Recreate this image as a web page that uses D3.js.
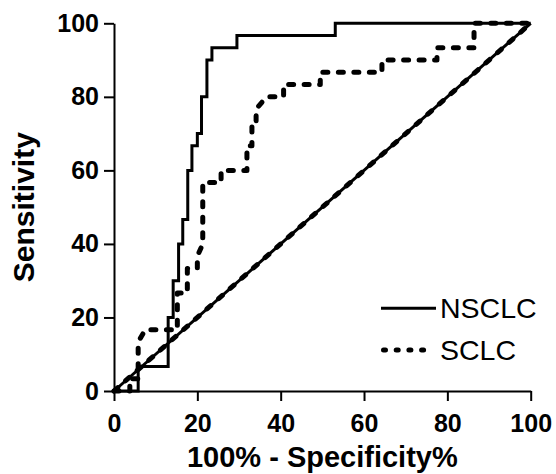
<!DOCTYPE html>
<html><head><meta charset="utf-8">
<script src="https://cdn.jsdelivr.net/npm/d3@7"></script>
<style>
html,body{margin:0;padding:0;background:#fff;}
svg{display:block;font-family:"Liberation Sans",Arial,Helvetica,sans-serif;}
</style></head>
<body><svg id="c" width="556" height="474"></svg>
<script>
const xTicks = [0, 20, 40, 60, 80, 100];
const yTicks = [0, 20, 40, 60, 80, 100];
const seriesNames = ["NSCLC", "SCLC"];
const nsclcX = [0, 5.8, 5.8, 13, 13, 14.2, 14.2, 15.5, 15.5, 16.5, 16.5, 17.7, 17.7, 18.7, 18.7, 20, 20, 21, 21, 22.3, 22.3, 23.5, 23.5, 29.5, 29.5, 53.1, 53.1, 100];
const nsclcY = [0, 0, 6.67, 6.67, 20, 20, 30, 30, 40, 40, 46.67, 46.67, 60, 60, 66.67, 66.67, 70, 70, 80, 80, 90, 90, 93.33, 93.33, 96.67, 96.67, 100, 100];
const sclcX = [0, 3.8, 3.8, 5.8, 5.8, 7.5, 15.2, 15.2, 17.6, 17.6, 20, 20, 21.3, 21.3, 25.7, 25.7, 31.9, 31.9, 33.1, 33.1, 34.1, 34.1, 36.6, 40.7, 40.7, 49.5, 49.5, 64.3, 64.3, 77.5, 77.5, 86.4, 86.4, 100];
const sclcY = [0, 0, 3.33, 3.33, 13.33, 16.67, 16.67, 26.67, 26.67, 33.33, 33.33, 36.67, 40, 56.67, 56.67, 60, 60, 66.67, 66.67, 73.33, 73.33, 76.67, 80, 80, 83.33, 83.33, 86.67, 86.67, 90, 90, 93.33, 93.33, 100, 100];
const refX = [0, 100];
const refY = [0, 100];

const svg = d3.select("#c");
const x = d3.scaleLinear().domain([0, 100]).range([114, 530.7]);
const y = d3.scaleLinear().domain([0, 100]).range([391, 23.3]);

const line = d3.line().x(d => x(d[0])).y(d => y(d[1]));
const zip = (a, b) => a.map((v, i) => [v, b[i]]);

const plot = svg.append("g");
// reference diagonals (solid + dashed overlapping)
plot.append("path").datum(zip(refX, refY)).attr("d", line)
  .attr("fill", "none").attr("stroke", "#000").attr("stroke-width", 3);
plot.append("path").datum(zip(refX, refY)).attr("d", line)
  .attr("fill", "none").attr("stroke", "#000").attr("stroke-width", 5)
  .attr("stroke-dasharray", "5,10.5").attr("stroke-linecap", "round");
// curves
plot.append("path").datum(zip(nsclcX, nsclcY)).attr("d", line)
  .attr("fill", "none").attr("stroke", "#000").attr("stroke-width", 3);
plot.append("path").datum(zip(sclcX, sclcY)).attr("d", line)
  .attr("fill", "none").attr("stroke", "#000").attr("stroke-width", 5)
  .attr("stroke-dasharray", "5,10.5").attr("stroke-linecap", "round")
  .attr("stroke-linejoin", "round");

// axes
const xAxis = d3.axisBottom(x).tickValues(xTicks).tickSizeInner(10).tickSizeOuter(0).tickPadding(13);
const yAxis = d3.axisLeft(y).tickValues(yTicks).tickSizeInner(10).tickSizeOuter(0).tickPadding(5);
const gx = svg.append("g").attr("transform", `translate(0,${y(0)})`).call(xAxis);
const gy = svg.append("g").attr("transform", `translate(${x(0)},0)`).call(yAxis);
[gx, gy].forEach(g => {
  g.select(".domain").attr("stroke", "#000").attr("stroke-width", 2);
  g.selectAll(".tick line").attr("stroke", "#000").attr("stroke-width", 2);
  g.selectAll(".tick text").attr("fill", "#000").style("font-size", "25px")
    .style("font-weight", "bold").style("font-family", "'Liberation Sans',Arial,sans-serif");
});

// axis titles
svg.append("text").attr("x", (x(0) + x(100)) / 2).attr("y", 467)
  .attr("text-anchor", "middle").style("font-size", "29px").style("font-weight", "bold")
  .text("100% - Specificity%");
svg.append("text").attr("transform", `translate(34,${(y(0) + y(100)) / 2}) rotate(-90)`)
  .attr("text-anchor", "middle").style("font-size", "30px").style("font-weight", "bold")
  .text("Sensitivity");

// legend
const leg = svg.append("g");
const legY = [308.3, 350];
seriesNames.forEach((name, i) => {
  const l = leg.append("line").attr("x1", 381).attr("x2", 436).attr("y1", legY[i]).attr("y2", legY[i])
    .attr("stroke", "#000");
  if (i === 0) l.attr("stroke-width", 3);
  else l.attr("stroke-width", 5).attr("stroke-dasharray", "2,10.7").attr("stroke-linecap", "round")
    .attr("x1", 383.5).attr("x2", 433.5);
  leg.append("text").attr("x", 440).attr("y", legY[i] + 9.5).style("font-size", "28.5px")
    .text(name);
});
</script></body></html>
